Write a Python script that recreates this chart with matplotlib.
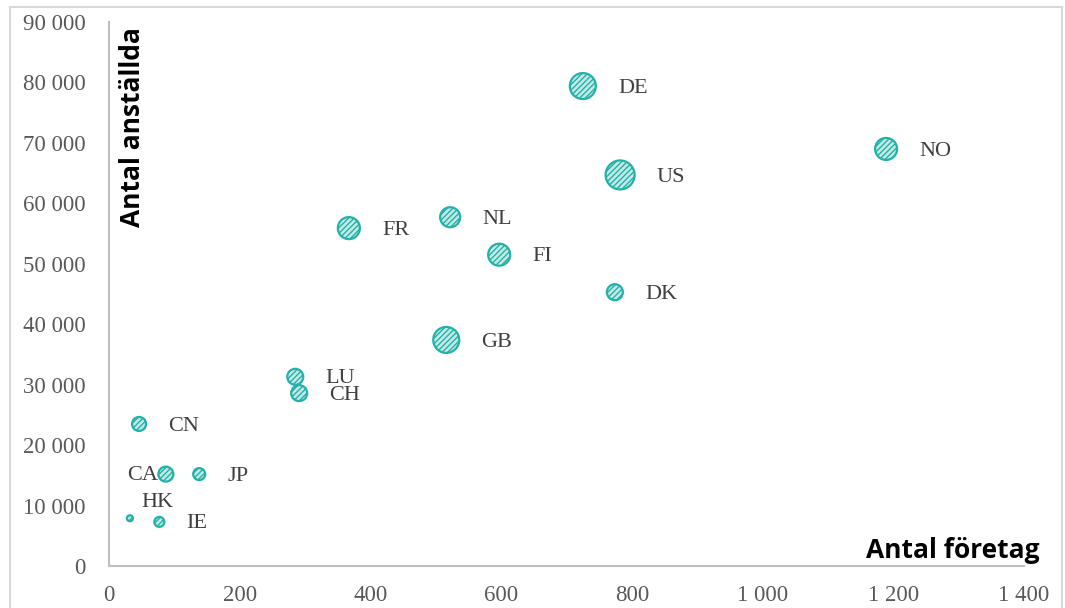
import matplotlib
matplotlib.use("Agg")
import matplotlib.pyplot as plt
import numpy as np
from matplotlib.patches import Rectangle
from matplotlib.ticker import FuncFormatter

countries = ["DE", "NO", "US", "NL", "FR", "FI", "DK", "GB", "LU", "CH", "CN", "CA", "JP", "HK", "IE"]
foretag = [725, 1189, 782, 522, 367, 597, 774, 516, 285, 291, 46, 87, 138, 32, 77]
anstallda = [79400, 69000, 64700, 57700, 55900, 51500, 45300, 37400, 31300, 28600, 23500, 15200, 15200, 7900, 7300]
bubble = [169, 121, 210, 100, 121, 121, 64, 169, 64, 64, 49, 56, 36, 9, 25]

plt.rcParams['hatch.linewidth'] = 1.0
fig = plt.figure(figsize=(10.65, 6.08), dpi=100)
W, H = 1065, 608
ax = fig.add_axes([109 / W, (608 - 566) / H, (1024 - 109) / W, (566 - 22) / H])

scale = 1.44 ** 2
sizes = [b * scale for b in bubble]
sc = ax.scatter(foretag, anstallda, s=sizes, facecolor="#c4eae6", edgecolor="#22b2a8",
                linewidths=1.6, hatch="//////", zorder=3)

serif = ["Liberation Serif", "DejaVu Serif"]
for c, x, y, b in zip(countries, foretag, anstallda, bubble):
    r_pt = np.sqrt(b * scale) / 2
    if c == "CA":
        ax.annotate(c, (x, y), xytext=(-r_pt - 0.5, -1), textcoords="offset points",
                    ha="right", va="center", fontsize=16, family=serif, color="#404040")
    elif c == "HK":
        ax.annotate(c, (x, y), xytext=(8, 11), textcoords="offset points",
                    ha="left", va="center", fontsize=16, family=serif, color="#404040")
    else:
        ax.annotate(c, (x, y), xytext=(r_pt + 16, -1.5), textcoords="offset points",
                    ha="left", va="center", fontsize=16, family=serif, color="#404040")

ax.set_xlim(0, 1400)
ax.set_ylim(0, 90000)
ax.set_xticks(np.arange(0, 1401, 200))
ax.set_yticks(np.arange(0, 90001, 10000))
fmt = FuncFormatter(lambda v, p: f"{int(v):,}".replace(",", " "))
ax.xaxis.set_major_formatter(fmt)
ax.yaxis.set_major_formatter(fmt)
ax.tick_params(length=0, labelsize=16.5, labelcolor="#595959")
ax.tick_params(axis="x", pad=14)
ax.tick_params(axis="y", pad=17)
for lab in ax.get_xticklabels() + ax.get_yticklabels():
    lab.set_family(serif)
for s in ["top", "right"]:
    ax.spines[s].set_visible(False)
for s in ["left", "bottom"]:
    ax.spines[s].set_color("#bfbfbf")
    ax.spines[s].set_linewidth(1.5)
ax.patch.set_alpha(0)

fig.text(1040 / W, 1 - 551 / H, "Antal företag", ha="right", va="center",
         fontsize=19, fontweight="bold", family=["Open Sans", "DejaVu Sans"], color="black")
fig.text(132 / W, 1 - 27 / H, "Antal anställda", ha="center", va="top", rotation=90,
         fontsize=19, fontweight="bold", family=["Open Sans", "DejaVu Sans"], color="black")

fig.patches.append(Rectangle((10 / W, -0.01), (1062 - 10) / W, (608 - 7) / H + 0.01,
                             transform=fig.transFigure, fill=False, edgecolor="#d9d9d9",
                             linewidth=1.5, zorder=0))

fig.savefig("out.png", dpi=100)
